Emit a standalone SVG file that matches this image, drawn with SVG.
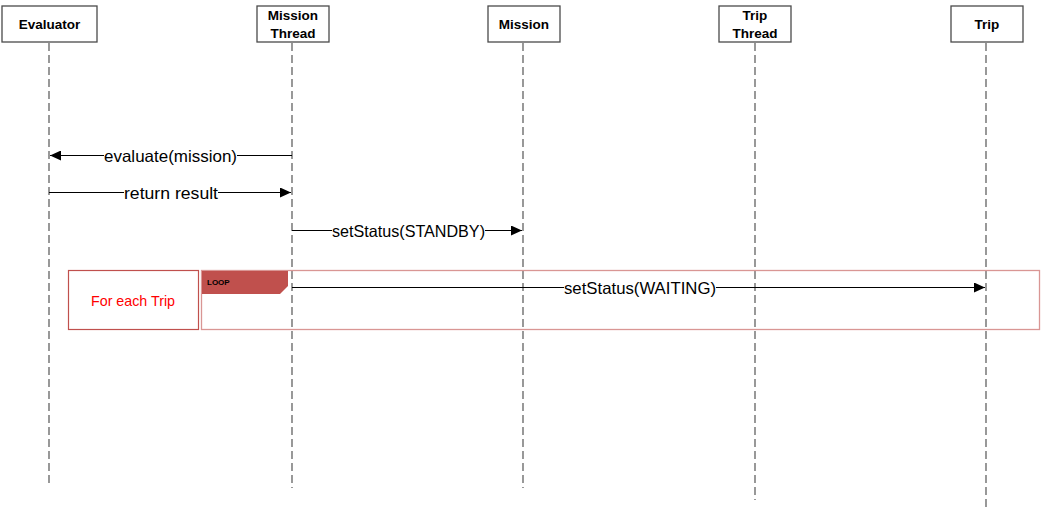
<svg xmlns="http://www.w3.org/2000/svg" width="1041" height="508" viewBox="0 0 1041 508">
<style>
.box{fill:#fff;stroke:#4a4a4a;stroke-width:1.3}
.lbl{font-family:"Liberation Sans",Arial,sans-serif;font-weight:bold;font-size:13.5px;fill:#000;text-anchor:middle}
.life{stroke:#555;stroke-width:1.2;stroke-dasharray:8,4;fill:none}
.msg{stroke:#000;stroke-width:1;fill:none}
.mt{font-family:"Liberation Sans",Arial,sans-serif;font-size:16.5px;fill:#000;text-anchor:middle}
.bg{fill:#fff}
</style>
<defs>
<marker id="ah" markerWidth="12" markerHeight="10" refX="11" refY="5" orient="auto" markerUnits="userSpaceOnUse">
<path d="M0,0 L11,5 L0,10 z" fill="#000"/>
</marker>
</defs>
<g id="lifelines">
<line class="life" x1="49" y1="43" x2="49" y2="483"/>
<line class="life" x1="292" y1="43" x2="292" y2="488"/>
<line class="life" x1="523" y1="43" x2="523" y2="488"/>
<line class="life" x1="755" y1="43" x2="755" y2="500"/>
<line class="life" x1="986" y1="43" x2="986" y2="507"/>
</g>
<g id="node-evaluator"><rect class="box" x="2" y="6" width="95" height="36"/><text class="lbl" x="49.5" y="28.5">Evaluator</text></g>
<g id="node-mission-thread"><rect class="box" x="257" y="6" width="72" height="36"/><text class="lbl" x="293" y="19.5">Mission</text><text class="lbl" x="293" y="37.5">Thread</text></g>
<g id="node-mission"><rect class="box" x="488" y="6" width="72" height="36"/><text class="lbl" x="524" y="28.5">Mission</text></g>
<g id="node-trip-thread"><rect class="box" x="719" y="6" width="72" height="36"/><text class="lbl" x="755" y="19.5">Trip</text><text class="lbl" x="755" y="37.5">Thread</text></g>
<g id="node-trip"><rect class="box" x="951" y="6" width="72" height="36"/><text class="lbl" x="987" y="28.5">Trip</text></g>
<g id="loop-frame">
<rect x="201.5" y="270.5" width="838" height="59" fill="none" stroke="#d99694" stroke-width="1.3"/>
<path d="M202,271 L288,271 L288,286 L280,294 L202,294 z" fill="#c0504d"/>
<text x="207" y="285" font-family="Liberation Sans,Arial,sans-serif" font-weight="bold" font-size="8" fill="#000">LOOP</text>
</g>
<g id="loop-condition">
<rect x="68.5" y="270.5" width="130" height="59" fill="#fff" stroke="#c0504d" stroke-width="1.2"/>
<text x="133" y="306" font-family="Liberation Sans,Arial,sans-serif" font-size="14.5" fill="#ff0000" text-anchor="middle" textLength="84" lengthAdjust="spacingAndGlyphs">For each Trip</text>
</g>
<g id="connectors">
<line class="msg" x1="292" y1="155.5" x2="50" y2="155.5" marker-end="url(#ah)"/>
<rect class="bg" x="104" y="147" width="133" height="17"/>
<text class="mt" x="170.5" y="161.5" textLength="133" lengthAdjust="spacingAndGlyphs">evaluate(mission)</text>
<line class="msg" x1="49" y1="192.5" x2="291" y2="192.5" marker-end="url(#ah)"/>
<rect class="bg" x="124" y="184" width="94" height="17"/>
<text class="mt" x="171" y="198.5" textLength="94" lengthAdjust="spacingAndGlyphs">return result</text>
<line class="msg" x1="292" y1="230.5" x2="522" y2="230.5" marker-end="url(#ah)"/>
<rect class="bg" x="332" y="222" width="153" height="17"/>
<text class="mt" x="408.5" y="236.5" textLength="153" lengthAdjust="spacingAndGlyphs">setStatus(STANDBY)</text>
<line class="msg" x1="292" y1="287.5" x2="985" y2="287.5" marker-end="url(#ah)"/>
<rect class="bg" x="564" y="279" width="152" height="17"/>
<text class="mt" x="640" y="293.5" textLength="152" lengthAdjust="spacingAndGlyphs">setStatus(WAITING)</text>
</g>
</svg>
